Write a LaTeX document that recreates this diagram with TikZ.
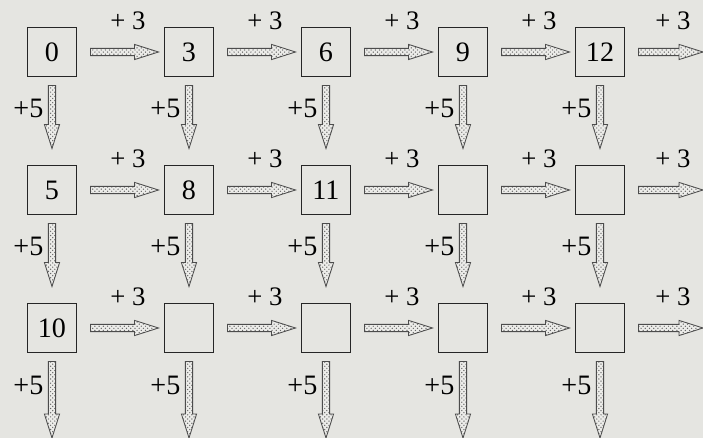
\documentclass[tikz,border=0pt]{standalone}
\usepackage{fontspec}
\setmainfont{Liberation Serif}
\usepackage{tikz}
\usetikzlibrary{calc,patterns}
\definecolor{paper}{RGB}{229,229,225}
\definecolor{afill}{RGB}{236,236,233}
\tikzset{
  numbox/.style={rectangle,draw=black!85,line width=1.4pt,minimum width=1.225cm,
    minimum height=1.225cm,inner sep=0pt,font=\fontsize{20}{24}\selectfont},
  % dotted hollow arrows, right and down
  harrow/.style={draw=black!70,line width=0.6pt,preaction={fill=afill},
    pattern=crosshatch dots,pattern color=black!60,
    to path={([xshift=0.325cm,yshift=0.09cm]\tikztostart)
      -- ([xshift=-0.725cm,yshift=0.09cm]\tikztotarget) \tikztonodes
      -- ([xshift=-0.725cm,yshift=0.19cm]\tikztotarget)
      -- ([xshift=-0.125cm]\tikztotarget)
      -- ([xshift=-0.725cm,yshift=-0.19cm]\tikztotarget)
      -- ([xshift=-0.725cm,yshift=-0.09cm]\tikztotarget)
      -- ([xshift=0.325cm,yshift=-0.09cm]\tikztostart) -- cycle}},
  varrow/.style={draw=black!70,line width=0.6pt,preaction={fill=afill},
    pattern=crosshatch dots,pattern color=black!60,
    to path={([xshift=-0.09cm,yshift=-0.2cm]\tikztostart)
      -- ([xshift=-0.09cm,yshift=1.0cm]\tikztotarget) \tikztonodes
      -- ([xshift=-0.19cm,yshift=1.0cm]\tikztotarget)
      -- ([yshift=0.4cm]\tikztotarget)
      -- ([xshift=0.19cm,yshift=1.0cm]\tikztotarget)
      -- ([xshift=0.09cm,yshift=1.0cm]\tikztotarget)
      -- ([xshift=0.09cm,yshift=-0.2cm]\tikztostart) -- cycle}},
  plusthree/.style={pos=0.85,yshift=0.7cm,inner sep=1pt,
    font=\fontsize{19}{23}\selectfont},
  plusfive/.style={pos=0.6,anchor=east,xshift=-0.08cm,inner sep=1pt,
    font=\fontsize{20}{24}\selectfont}
}

\begin{document}
\begin{tikzpicture}
\useasboundingbox[fill=paper] (-1.3,1.3) rectangle (16.275,-9.65);
% ---------- boxes ----------
\foreach \c/\t in {1/0,2/3,3/6,4/9,5/12}
  \node[numbox] (b1\c) at ({(\c-1)*3.425},0) {\t};
\foreach \c/\t in {1/5,2/8,3/11,4/{},5/{}}
  \node[numbox] (b2\c) at ({(\c-1)*3.425},-3.45) {\t};
\foreach \c/\t in {1/10,2/{},3/{},4/{},5/{}}
  \node[numbox] (b3\c) at ({(\c-1)*3.425},-6.9) {\t};
% free ends at the edges
\foreach \r/\y in {1/0,2/-3.45,3/-6.9} \coordinate (r\r) at (16.4,\y);
\foreach \c in {1,...,5} \coordinate (d\c) at ($(b3\c)+(0,-3.15)$);
% ---------- +3 to the right ----------
\foreach \r in {1,2,3} {
  \foreach \c in {1,...,4} {
    \pgfmathtruncatemacro\n{\c+1}
    \draw[harrow] (b\r\c.east) to node[plusthree]{+ 3} (b\r\n.west);
  }
  \draw[harrow] (b\r5.east) to node[plusthree]{+ 3} (r\r);
}
% ---------- +5 downwards ----------
\foreach \c in {1,...,5} {
  \draw[varrow] (b1\c.south) to node[plusfive]{+5} (b2\c.north);
  \draw[varrow] (b2\c.south) to node[plusfive]{+5} (b3\c.north);
  \draw[varrow] (b3\c.south) to node[plusfive,pos=0.45]{+5} (d\c);
}
\end{tikzpicture}
\end{document}
